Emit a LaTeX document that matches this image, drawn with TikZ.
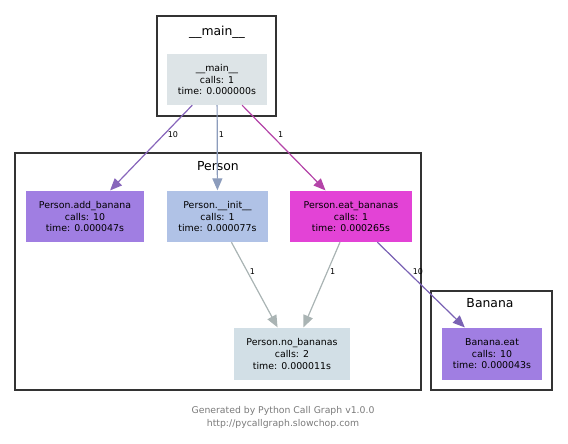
\documentclass[tikz,border=0pt]{standalone}
\usepackage{fontspec}
\setmainfont{DejaVu Sans}
\usetikzlibrary{arrows.meta, positioning}

\definecolor{clusterline}{HTML}{333333}
\definecolor{mainfill}{HTML}{DDE4E7}
\definecolor{addfill}{HTML}{A07EE2}
\definecolor{initfill}{HTML}{B0C2E6}
\definecolor{eatfill}{HTML}{E343D6}
\definecolor{nobfill}{HTML}{D2DFE6}
\definecolor{bananafill}{HTML}{A07EE2}
\definecolor{addedge}{HTML}{8866BB}
\definecolor{initedge}{HTML}{8C9CBC}
\definecolor{eatedge}{HTML}{B444A8}
\definecolor{nobedge}{HTML}{AAB4B4}
\definecolor{bananaedge}{HTML}{7A62B4}
\definecolor{footgray}{HTML}{7A7A7A}

\begin{document}
\begin{tikzpicture}[
  x=1pt, y=-1pt,
  cluster/.style={draw=clusterline, line width=2.6pt, inner sep=0pt},
  title/.style={font=\fontsize{12.4}{14}\selectfont},
  func/.style={inner sep=0pt, minimum height=51pt, align=center, font=\fontsize{9.4}{11.6}\selectfont},
  call/.style={-{Triangle[length=12pt, width=10pt]}, line width=1.2pt, shorten >=0.5pt},
  count/.style={font=\fontsize{8}{9}\selectfont, inner sep=1pt, anchor=west, pos=0.34}
]
\useasboundingbox (0,0) rectangle (568,444);

% Clusters
\node[cluster, minimum width=119pt, minimum height=100pt] (maincl) at (216.5,66) {};
\node[cluster, minimum width=406pt, minimum height=237pt] (personcl) at (218,271.5) {};
\node[cluster, minimum width=121pt, minimum height=99pt] (bananacl) at (491.5,340.5) {};
\node[title] (maintitle) at (217,32) {\_\_main\_\_};
\node[title] (persontitle) at (218,166) {Person};
\node[title] (bananatitle) at (490,303) {Banana};

% Function boxes
\node[func, fill=mainfill, minimum width=100pt] (main) at (217,79.5) {\_\_main\_\_\\calls: 1\\time: 0.000000s};
\node[func, fill=addfill, minimum width=118pt] (add) at (85,216.5) {Person.add\_banana\\calls: 10\\time: 0.000047s};
\node[func, fill=initfill, minimum width=101pt] (init) at (217.5,216.5) {Person.\_\_init\_\_\\calls: 1\\time: 0.000077s};
\node[func, fill=eatfill, minimum width=122pt] (eat) at (351,216.5) {Person.eat\_bananas\\calls: 1\\time: 0.000265s};
\node[func, fill=nobfill, minimum width=116pt, minimum height=52pt] (nob) at (292,354) {Person.no\_bananas\\calls: 2\\time: 0.000011s};
\node[func, fill=bananafill, minimum width=100pt, minimum height=52pt] (beat) at (492,354) {Banana.eat\\calls: 10\\time: 0.000043s};

% Calls
\draw[call, draw=addedge, fill=addedge] (main) -- node[count, xshift=2pt]{10} (add);
\draw[call, draw=initedge, fill=initedge] (main) -- node[count]{1} (init);
\draw[call, draw=eatedge, fill=eatedge] (main) -- node[count, xshift=6pt]{1} (eat);
\draw[call, draw=nobedge, fill=nobedge] (init) -- node[count, xshift=1pt]{1} (nob);
\draw[call, draw=nobedge, fill=nobedge] (eat) -- node[count, xshift=1pt]{1} (nob);
\draw[call, draw=bananaedge, fill=bananaedge] (eat) -- node[count, xshift=4pt]{10} (beat);

% Footer
\node[font=\fontsize{9.3}{12.6}\selectfont, text=footgray, align=center] (footer) at (283,417.5) {Generated by Python Call Graph v1.0.0\\http://pycallgraph.slowchop.com};
\end{tikzpicture}
\end{document}
